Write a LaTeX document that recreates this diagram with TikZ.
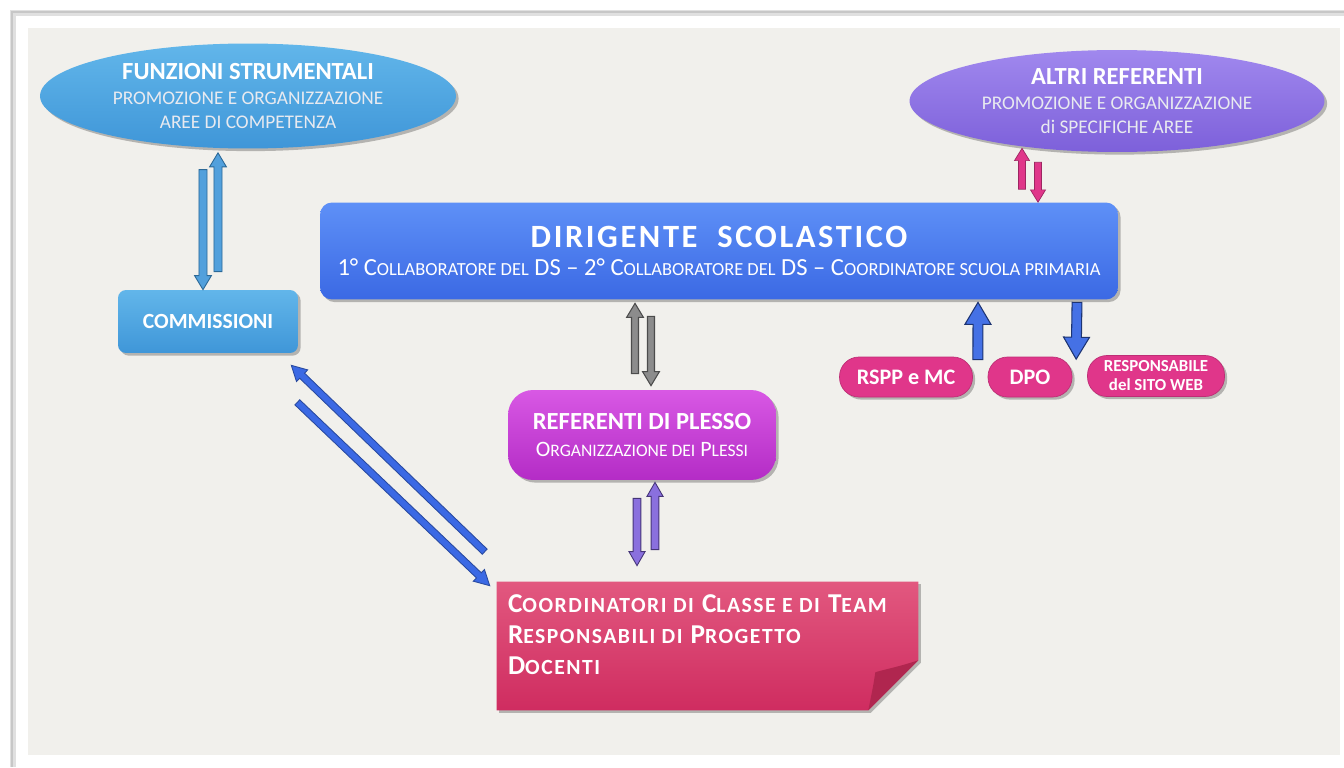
\documentclass[tikz,border=0pt]{standalone}
\usepackage{fontspec}
\setmainfont{Carlito}
\newfontfamily\spacedfont{Carlito}[LetterSpace=8]
\newfontfamily\widefont{Carlito}[LetterSpace=7]
\usetikzlibrary{calc,shapes.geometric}
\definecolor{bgray}{HTML}{F1F0EC}
\definecolor{fsTop}{HTML}{62B6EA}
\definecolor{fsBot}{HTML}{3F96D8}
\definecolor{dsTop}{HTML}{5E90F7}
\definecolor{dsBot}{HTML}{3B69E4}
\definecolor{arTop}{HTML}{A088EE}
\definecolor{arBot}{HTML}{7D60DA}
\definecolor{plTop}{HTML}{D858E4}
\definecolor{plBot}{HTML}{B42CC6}
\definecolor{pink}{HTML}{E0368A}
\definecolor{coTop}{HTML}{E2587F}
\definecolor{coBot}{HTML}{CF2C60}
\definecolor{coFold}{HTML}{B0264F}
\definecolor{subtxt}{HTML}{E8EAF0}
\newcommand\smc[2]{{\fontsize{#1}{#1}\selectfont #2}}
\newcommand\barrow[6]{%
  \coordinate (bA) at (#2);
  \coordinate (bB) at (#3);
  \coordinate (bH) at ($(bB)!#6!(bA)$);
  \draw[#1] ($(bA)!#4!90:(bB)$) -- ($(bH)!#4!90:(bB)$) -- ($(bH)!#5!90:(bB)$) -- (bB)
    -- ($(bH)!#5!-90:(bB)$) -- ($(bH)!#4!-90:(bB)$) -- ($(bA)!#4!-90:(bB)$) -- cycle;}
\tikzset{
  shad/.style={preaction={fill=black,opacity=0.25,transform canvas={xshift=1.5pt,yshift=-1.5pt}}},
  ell/.style={ellipse,inner sep=0pt,shad,text=white,align=center,font=\fontsize{11}{13.5}\selectfont},
  pill/.style={rectangle,rounded corners=0.39cm,fill=pink,draw=pink!85!black,line width=0.4pt,
    text=white,font=\bfseries,align=center,inner sep=0pt,shad},
  fsarr/.style={fill=fsBot!90!white,draw=fsBot!70!black,line width=0.5pt},
  diarr/.style={fill=dsBot,draw=dsBot!70!black,line width=0.5pt},
  grarr/.style={fill=black!45,draw=black!70,line width=0.6pt},
  puarr/.style={fill=arBot!90!white,draw=arBot!55!black,line width=0.5pt},
  piarr/.style={fill=pink,draw=pink!70!black,line width=0.4pt},
  blarr/.style={fill=dsBot!95!white,draw=dsBot!50!black,line width=0.6pt},
}
\begin{document}
\begin{tikzpicture}[x=0.02cm,y=-0.02cm]
\useasboundingbox (0,0) rectangle (1344,767);
\fill[white] (0,0) rectangle (1344,767);
\draw[black!12,line width=3pt] (13,767) -- (13,13) -- (1344,13);
\draw[black!22,line width=0.8pt] (12,767) -- (12,12) -- (1344,12);
\fill[bgray] (28,28) rectangle (1340,755);

% nodes
\node[ell,top color=fsTop,bottom color=fsBot,minimum width=8.32cm,minimum height=2.1cm] (fs) at (248,96)
  {{\bfseries\fontsize{14}{15}\selectfont FUNZIONI STRUMENTALI}\\[1pt]
   \textcolor{subtxt}{PROMOZIONE E ORGANIZZAZIONE}\\
   \textcolor{subtxt}{AREE DI COMPETENZA}};
\node[ell,top color=arTop,bottom color=arBot,minimum width=8.3cm,minimum height=2.04cm] (altri) at (1117,101)
  {{\bfseries\fontsize{14}{15}\selectfont ALTRI REFERENTI}\\[1pt]
   \textcolor{subtxt}{PROMOZIONE E ORGANIZZAZIONE}\\
   \textcolor{subtxt}{di SPECIFICHE AREE}};
\node[rectangle,rounded corners=0.24cm,top color=dsTop,bottom color=dsBot,minimum width=15.96cm,minimum height=1.94cm,
  shad,text=white,align=center,inner sep=0pt] (ds) at (719,251)
  {{\spacedfont\bfseries\fontsize{18.5}{20}\selectfont DIRIGENTE\ \ SCOLASTICO}\\[4pt]
   {\fontsize{14}{16}\selectfont 1° C\smc{10.5}{OLLABORATORE DEL} DS – 2° C\smc{10.5}{OLLABORATORE DEL} DS – C\smc{10.5}{OORDINATORE SCUOLA PRIMARIA}}};
\node[rectangle,rounded corners=0.16cm,top color=fsTop,bottom color=fsBot,minimum width=3.6cm,minimum height=1.26cm,
  shad,text=white,font=\bfseries\fontsize{12.3}{13}\selectfont,inner sep=0pt] (comm) at (208,321.5) {COMMISSIONI};
\node[pill,minimum width=2.66cm,minimum height=0.8cm,font=\bfseries\fontsize{12.6}{13}\selectfont] (rspp) at (906,377) {RSPP e MC};
\node[pill,minimum width=1.68cm,minimum height=0.8cm,font=\bfseries\fontsize{12.6}{13}\selectfont] (dpo) at (1030,377) {DPO};
\node[pill,minimum width=2.74cm,minimum height=0.82cm,font=\bfseries\fontsize{9.6}{10.8}\selectfont] (resp) at (1156,376) {RESPONSABILE\\del SITO WEB};
\node[rectangle,rounded corners=0.5cm,top color=plTop,bottom color=plBot,minimum width=5.36cm,minimum height=1.8cm,
  shad,text=white,align=center,inner sep=0pt] (plesso) at (642,435)
  {{\bfseries\fontsize{14}{16}\selectfont REFERENTI DI PLESSO}\\[3pt]
   {\fontsize{12.5}{14}\selectfont O\smc{10}{RGANIZZAZIONE DEI} P\smc{10}{LESSI}}};
\node[rectangle,minimum width=8.42cm,minimum height=2.56cm,inner sep=0pt] (coord) at (707.5,646) {};
\fill[black,opacity=0.25] ($(coord.north west)+(2.5,2.5)$) -- ($(coord.north east)+(2.5,2.5)$) -- ($(coord.south east)+(2.5,-47.5)$)
  -- ($(coord.south east)+(-47.5,2.5)$) -- ($(coord.south west)+(2.5,2.5)$) -- cycle;
\shade[top color=coTop,bottom color=coBot] (coord.north west) -- (coord.north east) -- ($(coord.south east)+(0,-50)$)
  -- ($(coord.south east)+(-50,0)$) -- (coord.south west) -- cycle;
\fill[coFold] ($(coord.south east)+(0,-50)$) .. controls ($(coord.south east)+(-25,-42)$) and ($(coord.south east)+(-38,-40)$) .. ($(coord.south east)+(-43,-38)$)
  .. controls ($(coord.south east)+(-45,-25)$) .. ($(coord.south east)+(-50,0)$) -- cycle;
\node[anchor=north west,align=left,text=white,inner sep=0pt,font=\widefont\bfseries\fontsize{15.5}{17.6}\selectfont]
  (coordtext) at ($(coord.north west)+(11,13)$)
  {C\smc{12.3}{OORDINATORI DI} C\smc{12.3}{LASSE E DI} T\smc{12.3}{EAM}\\
   R\smc{12.3}{ESPONSABILI DI} P\smc{12.3}{ROGETTO}\\
   D\smc{12.3}{OCENTI}};

% arrows
\barrow{fsarr}{$(comm.north)+(-5,-120)$}{$(comm.north)+(-5,0)$}{2.3pt}{4.8pt}{8pt}
\barrow{fsarr}{$(comm.north)+(10,-18)$}{$(fs.south)+(-30,4)$}{2.3pt}{4.8pt}{8pt}
\barrow{diarr}{$(coord.north west)+(-12,-30)$}{$(comm.south east)+(-7,12)$}{2pt}{4.6pt}{8.5pt}
\barrow{diarr}{$(comm.south east)+(-1,49)$}{$(coord.north west)+(-7,4)$}{2pt}{4.6pt}{8.5pt}
\barrow{grarr}{$(plesso.north)+(-7,-16)$}{$(ds.south)+(-84,3.5)$}{2pt}{4.8pt}{8pt}
\barrow{grarr}{$(ds.south)+(-68,16.5)$}{$(plesso.north)+(9,-4)$}{2pt}{4.8pt}{8pt}
\barrow{puarr}{$(plesso.south)+(-5,18)$}{$(coord.north)+(-70.5,-16)$}{2.2pt}{4.6pt}{8pt}
\barrow{puarr}{$(coord.north)+(-52.5,-32)$}{$(plesso.south)+(13,2)$}{2.2pt}{4.6pt}{8pt}
\barrow{piarr}{$(ds.north)+(303,-13)$}{$(altri.south)+(-95,-4)$}{2pt}{4.3pt}{7pt}
\barrow{piarr}{$(altri.south)+(-79,10)$}{$(ds.north)+(319,0)$}{2pt}{4.3pt}{7pt}
\barrow{blarr}{$(rspp.north east)+(5,3)$}{$(ds.south)+(259,2.5)$}{2.8pt}{7.4pt}{12.5pt}
\barrow{blarr}{$(ds.south)+(358,2.5)$}{$(resp.north west)+(-11,4)$}{2.8pt}{7.4pt}{12.5pt}
\end{tikzpicture}
\end{document}
